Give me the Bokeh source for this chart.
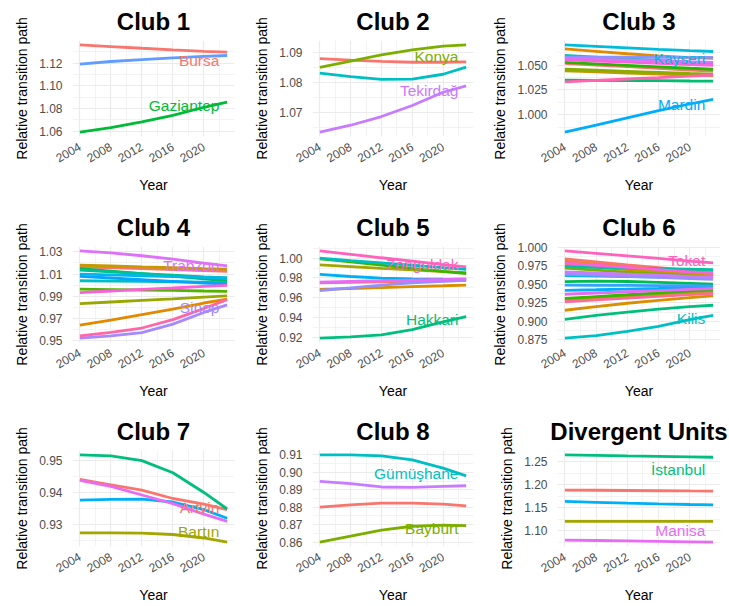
import math
from bokeh.plotting import figure
from bokeh.layouts import column, row
from bokeh.models import FixedTicker, PrintfTickFormatter, ColumnDataSource, Range1d
from bokeh.core.properties import value
from bokeh.embed import file_html
from bokeh.resources import INLINE

# ---------------- data ----------------
YEARS = [2004, 2008, 2012, 2016, 2020, 2023]
X_TICKS = [2004, 2008, 2012, 2016, 2020]
LABEL_X = 2022

CLUB1_VALUES = [
    [1.1362, 1.1347, 1.1332, 1.1318, 1.1305, 1.1297],  # Bursa
    [1.0590, 1.0630, 1.0680, 1.0738, 1.0810, 1.0856],  # Gaziantep
    [1.1192, 1.1215, 1.1232, 1.1247, 1.1260, 1.1268],
]
CLUB1_LABELS = ["Bursa", "Gaziantep", ""]
CLUB1_LABEL_Y = [1.1224, 1.0826, None]
CLUB1_YTICKS = [1.06, 1.08, 1.10, 1.12]

CLUB2_VALUES = [
    [1.0879, 1.0874, 1.0870, 1.0867, 1.0867, 1.0868],
    [1.0850, 1.0871, 1.0892, 1.0908, 1.0921, 1.0925],  # Konya
    [1.0831, 1.0819, 1.0810, 1.0811, 1.0827, 1.0851],
    [1.0634, 1.0657, 1.0686, 1.0723, 1.0767, 1.0788],  # Tekirdağ
]
CLUB2_LABELS = ["", "Konya", "", "Tekirdağ"]
CLUB2_LABEL_Y = [None, 1.0885, None, 1.0773]
CLUB2_YTICKS = [1.07, 1.08, 1.09]

CLUB3_VALUES = [
    [1.0520, 1.0503, 1.0486, 1.0468, 1.0451, 1.0440],
    [1.0667, 1.0642, 1.0617, 1.0595, 1.0578, 1.0570],
    [1.0445, 1.0433, 1.0421, 1.0410, 1.0400, 1.0395],
    [1.0460, 1.0450, 1.0439, 1.0428, 1.0417, 1.0410],
    [1.0530, 1.0515, 1.0500, 1.0485, 1.0470, 1.0460],
    [1.0350, 1.0348, 1.0346, 1.0344, 1.0341, 1.0340],
    [1.0600, 1.0583, 1.0566, 1.0549, 1.0532, 1.0520],
    [1.0707, 1.0692, 1.0677, 1.0662, 1.0648, 1.0640],  # Kayseri
    [0.9823, 0.9895, 0.9968, 1.0040, 1.0108, 1.0155],  # Mardin
    [1.0583, 1.0583, 1.0582, 1.0581, 1.0580, 1.0580],
    [1.0570, 1.0561, 1.0553, 1.0545, 1.0536, 1.0530],
    [1.0555, 1.0543, 1.0532, 1.0520, 1.0508, 1.0500],
    [1.0333, 1.0347, 1.0361, 1.0375, 1.0390, 1.0400],
]
CLUB3_LABELS = ["", "", "", "", "", "", "", "Kayseri", "Mardin", "", "", "", ""]
CLUB3_LABEL_Y = [None] * 7 + [1.0567, 1.0107] + [None] * 4
CLUB3_YTICKS = [1.000, 1.025, 1.050]

CLUB4_VALUES = [
    [1.0165, 1.0157, 1.0149, 1.0141, 1.0132, 1.0125],
    [0.9640, 0.9685, 0.9735, 0.9785, 0.9840, 0.9875],
    [1.0180, 1.0173, 1.0165, 1.0158, 1.0150, 1.0145],
    [0.9835, 0.9849, 0.9863, 0.9877, 0.9893, 0.9905],
    [0.9965, 0.9961, 0.9957, 0.9953, 0.9948, 0.9945],
    [1.0150, 1.0127, 1.0104, 1.0081, 1.0057, 1.0040],
    [1.0135, 1.0120, 1.0105, 1.0090, 1.0075, 1.0065],
    [1.0040, 1.0037, 1.0034, 1.0031, 1.0028, 1.0025],
    [1.0100, 1.0093, 1.0085, 1.0078, 1.0070, 1.0065],
    [1.0080, 1.0065, 1.0050, 1.0035, 1.0020, 1.0010],
    [0.9524, 0.9545, 0.9574, 0.9650, 0.9755, 0.9823],  # Sinop
    [1.0309, 1.0290, 1.0265, 1.0235, 1.0198, 1.0174],  # Trabzon
    [0.9934, 0.9948, 0.9962, 0.9975, 0.9990, 0.9999],
    [0.9545, 0.9575, 0.9615, 0.9690, 0.9790, 0.9870],
]
CLUB4_LABELS = [""] * 10 + ["Sinop", "Trabzon", "", ""]
CLUB4_LABEL_Y = [None] * 10 + [0.9800, 1.0180, None, None]
CLUB4_YTICKS = [0.95, 0.97, 0.99, 1.01, 1.03]

CLUB5_VALUES = [
    [0.9750, 0.9755, 0.9760, 0.9765, 0.9771, 0.9775],
    [0.9684, 0.9693, 0.9703, 0.9712, 0.9721, 0.9728],
    [0.9932, 0.9915, 0.9898, 0.9882, 0.9865, 0.9854],
    [0.9995, 0.9963, 0.9930, 0.9898, 0.9866, 0.9844],
    [0.9190, 0.9203, 0.9224, 0.9276, 0.9354, 0.9408],  # Hakkari
    [1.0000, 0.9976, 0.9953, 0.9929, 0.9905, 0.9888],
    [0.9837, 0.9815, 0.9798, 0.9790, 0.9787, 0.9786],
    [0.9673, 0.9700, 0.9728, 0.9750, 0.9767, 0.9776],
    [0.9759, 0.9766, 0.9772, 0.9779, 0.9785, 0.9790],
    [1.0075, 1.0040, 1.0005, 0.9972, 0.9935, 0.9912],  # Zonguldak
]
CLUB5_LABELS = ["", "", "", "", "Hakkari", "", "", "", "", "Zonguldak"]
CLUB5_LABEL_Y = [None] * 4 + [0.9378] + [None] * 4 + [0.9932]
CLUB5_YTICKS = [0.92, 0.94, 0.96, 0.98, 1.00]

CLUB6_VALUES = [
    [0.9845, 0.9805, 0.9765, 0.9728, 0.9690, 0.9665],
    [0.9815, 0.9776, 0.9738, 0.9701, 0.9664, 0.9640],
    [0.9150, 0.9200, 0.9245, 0.9285, 0.9322, 0.9345],
    [0.9760, 0.9730, 0.9700, 0.9672, 0.9643, 0.9625],
    [0.9290, 0.9313, 0.9337, 0.9361, 0.9385, 0.9400],
    [0.9720, 0.9694, 0.9668, 0.9643, 0.9617, 0.9600],
    [0.9310, 0.9335, 0.9360, 0.9386, 0.9412, 0.9430],
    [0.9537, 0.9545, 0.9540, 0.9528, 0.9515, 0.9505],
    [0.9027, 0.9080, 0.9125, 0.9165, 0.9200, 0.9218],
    [0.9740, 0.9731, 0.9722, 0.9714, 0.9706, 0.9700],
    [0.8772, 0.8805, 0.8864, 0.8932, 0.9023, 0.9080],  # Kilis
    [0.9620, 0.9614, 0.9607, 0.9601, 0.9594, 0.9590],
    [0.9420, 0.9428, 0.9437, 0.9445, 0.9454, 0.9460],
    [0.9490, 0.9488, 0.9486, 0.9484, 0.9482, 0.9480],
    [0.9640, 0.9625, 0.9610, 0.9595, 0.9580, 0.9570],
    [0.9670, 0.9655, 0.9640, 0.9625, 0.9610, 0.9600],
    [0.9367, 0.9384, 0.9401, 0.9417, 0.9434, 0.9445],
    [0.9790, 0.9760, 0.9730, 0.9700, 0.9670, 0.9650],
    [0.9955, 0.9922, 0.9888, 0.9853, 0.9815, 0.9791],  # Tokat
    [0.9265, 0.9290, 0.9314, 0.9339, 0.9363, 0.9380],
]
CLUB6_LABELS = [""] * 10 + ["Kilis"] + [""] * 7 + ["Tokat", ""]
CLUB6_LABEL_Y = [None] * 10 + [0.9037] + [None] * 7 + [0.9819, None]
CLUB6_YTICKS = [0.875, 0.900, 0.925, 0.950, 0.975, 1.000]

CLUB7_VALUES = [
    [0.9441, 0.9424, 0.9407, 0.9381, 0.9363, 0.9346],  # Artvin
    [0.9273, 0.9273, 0.9272, 0.9268, 0.9257, 0.9244],  # Bartın
    [0.9518, 0.9515, 0.9500, 0.9462, 0.9400, 0.9348],
    [0.9376, 0.9378, 0.9379, 0.9370, 0.9346, 0.9319],
    [0.9438, 0.9419, 0.9392, 0.9365, 0.9332, 0.9309],
]
CLUB7_LABELS = ["Artvin", "Bartın", "", "", ""]
CLUB7_LABEL_Y = [0.9354, 0.9278, None, None, None]
CLUB7_YTICKS = [0.93, 0.94, 0.95]

CLUB8_VALUES = [
    [0.8801, 0.8814, 0.8824, 0.8824, 0.8818, 0.8808],
    [0.8600, 0.8634, 0.8669, 0.8691, 0.8697, 0.8695],  # Bayburt
    [0.9100, 0.9100, 0.9094, 0.9071, 0.9024, 0.8980],  # Gümüşhane
    [0.8948, 0.8935, 0.8916, 0.8914, 0.8920, 0.8923],
]
CLUB8_LABELS = ["", "Bayburt", "Gümüşhane", ""]
CLUB8_LABEL_Y = [None, 0.8676, 0.8992, None]
CLUB8_YTICKS = [0.86, 0.87, 0.88, 0.89, 0.90, 0.91]

DIV_VALUES = [
    [1.1885, 1.1880, 1.1875, 1.1870, 1.1865, 1.1862],
    [1.1202, 1.1202, 1.1202, 1.1202, 1.1202, 1.1202],
    [1.2650, 1.2640, 1.2628, 1.2617, 1.2606, 1.2598],  # İstanbul
    [1.1637, 1.1618, 1.1600, 1.1585, 1.1571, 1.1562],
    [1.0797, 1.0788, 1.0778, 1.0768, 1.0759, 1.0752],  # Manisa
]
DIV_LABELS = ["", "", "İstanbul", "", "Manisa"]
DIV_LABEL_Y = [None, None, 1.2327, None, 1.1000]
DIV_YTICKS = [1.10, 1.15, 1.20, 1.25]

PANELS = [
    ("Club 1", CLUB1_VALUES, CLUB1_LABELS, CLUB1_LABEL_Y, CLUB1_YTICKS, "%.2f"),
    ("Club 2", CLUB2_VALUES, CLUB2_LABELS, CLUB2_LABEL_Y, CLUB2_YTICKS, "%.2f"),
    ("Club 3", CLUB3_VALUES, CLUB3_LABELS, CLUB3_LABEL_Y, CLUB3_YTICKS, "%.3f"),
    ("Club 4", CLUB4_VALUES, CLUB4_LABELS, CLUB4_LABEL_Y, CLUB4_YTICKS, "%.2f"),
    ("Club 5", CLUB5_VALUES, CLUB5_LABELS, CLUB5_LABEL_Y, CLUB5_YTICKS, "%.2f"),
    ("Club 6", CLUB6_VALUES, CLUB6_LABELS, CLUB6_LABEL_Y, CLUB6_YTICKS, "%.3f"),
    ("Club 7", CLUB7_VALUES, CLUB7_LABELS, CLUB7_LABEL_Y, CLUB7_YTICKS, "%.2f"),
    ("Club 8", CLUB8_VALUES, CLUB8_LABELS, CLUB8_LABEL_Y, CLUB8_YTICKS, "%.2f"),
    ("Divergent Units", DIV_VALUES, DIV_LABELS, DIV_LABEL_Y, DIV_YTICKS, "%.2f"),
]

# ---------------- style ----------------
FONT = "Liberation Sans"
COL_W = [243, 243, 243]
COL_BL = [72, 69, 71]
COL_FW = [162, 161, 163]
ROW_H = [204, 204, 198]
ROW_BT = [40, 42, 42]
FRAME_H = 96


def hue_pal(n, h0=15, h1=375, c=100, l=65):
    hues = [h0 + (h1 - h0) * i / n for i in range(n)]
    out = []
    Xn, Yn, Zn = 95.047, 100.0, 108.883
    un = 4 * Xn / (Xn + 15 * Yn + 3 * Zn)
    vn = 9 * Yn / (Xn + 15 * Yn + 3 * Zn)
    for h in hues:
        hr = math.radians(h)
        u, v = c * math.cos(hr), c * math.sin(hr)
        Y = Yn * ((l + 16) / 116) ** 3
        up = u / (13 * l) + un
        vp = v / (13 * l) + vn
        X = Y * 9 * up / (4 * vp)
        Z = Y * (12 - 3 * up - 20 * vp) / (4 * vp)
        x, y, z = X / 100, Y / 100, Z / 100
        rgb = [3.2404542 * x - 1.5371385 * y - 0.4985314 * z,
               -0.9692660 * x + 1.8760108 * y + 0.0415560 * z,
               0.0556434 * x - 0.2040259 * y + 1.0572252 * z]
        res = []
        for ch in rgb:
            ch = 12.92 * ch if ch <= 0.0031308 else 1.055 * ch ** (1 / 2.4) - 0.055
            res.append(max(0, min(255, round(ch * 255))))
        out.append("#%02X%02X%02X" % tuple(res))
    return out


def make_panel(idx, spec):
    title, values, labels, label_y, yticks, yfmt = spec
    r, cidx = divmod(idx, 3)
    W, H = COL_W[cidx], ROW_H[r]
    bl, fw = COL_BL[cidx], COL_FW[cidx]
    bt = ROW_BT[r]
    lo = min(min(v) for v in values)
    hi = max(max(v) for v in values)
    span = hi - lo
    xspan = YEARS[-1] - YEARS[0]
    p = figure(width=W, height=H, output_backend="svg", toolbar_location=None,
               x_range=Range1d(YEARS[0] - 0.05 * xspan, YEARS[-1] + 0.05 * xspan),
               y_range=Range1d(lo - 0.05 * span, hi + 0.05 * span),
               min_border_left=bl, min_border_right=W - bl - fw,
               min_border_top=bt, min_border_bottom=H - bt - FRAME_H,
               outline_line_color=None, background_fill_color="white",
               border_fill_color="white")
    p.title.text = title
    p.title.align = "center"
    p.title.text_font = FONT
    p.title.text_font_size = "24px"
    p.title.text_font_style = "bold"
    p.title.text_color = "black"
    p.title.standoff = 11

    step = yticks[1] - yticks[0]
    yminor = [yticks[0] - step / 2] + [t + step / 2 for t in yticks]
    p.yaxis.ticker = FixedTicker(ticks=yticks, minor_ticks=yminor)
    p.yaxis.formatter = PrintfTickFormatter(format=yfmt)
    p.xaxis.ticker = FixedTicker(ticks=X_TICKS,
                                 minor_ticks=[X_TICKS[0] - 2] + [t + 2 for t in X_TICKS])
    p.xaxis.major_label_orientation = math.pi / 6
    p.xaxis.axis_label = "Year"
    p.yaxis.axis_label = "Relative transition path"
    for ax in (p.xaxis, p.yaxis):
        ax.axis_line_color = None
        ax.major_tick_line_color = None
        ax.minor_tick_line_color = None
        ax.major_tick_out = 0
        ax.major_tick_in = 0
        ax.minor_tick_out = 0
        ax.major_label_text_font = FONT
        ax.major_label_text_font_size = "12px"
        ax.major_label_text_color = "#4D4D4D"
        ax.axis_label_text_font = FONT
        ax.axis_label_text_font_size = "14px"
        ax.axis_label_text_font_style = "normal"
        ax.axis_label_text_color = "black"
    p.xaxis.major_label_standoff = 9
    p.xaxis.axis_label_standoff = 7
    p.yaxis.major_label_standoff = 10
    p.yaxis.axis_label_standoff = 6
    for g in (p.xgrid, p.ygrid):
        g.grid_line_color = "#EBEBEB"
        g.grid_line_width = 1.2
        g.minor_grid_line_color = "#EEEEEE"
        g.minor_grid_line_width = 0.7

    colors = hue_pal(len(values))
    src = ColumnDataSource(dict(xs=[YEARS] * len(values), ys=values, color=colors))
    p.multi_line(xs="xs", ys="ys", line_color="color", line_width=2.8, source=src)

    lt = [t for t in labels if t]
    ly = [y for t, y in zip(labels, label_y) if t]
    lc = [c for t, c in zip(labels, colors) if t]
    lsrc = ColumnDataSource(dict(x=[LABEL_X] * len(lt), y=ly, text=lt, color=lc))
    p.text(x="x", y="y", text="text", text_color="color", source=lsrc,
           text_align="right", text_baseline="middle",
           text_font=value(FONT), text_font_size="15.5px")
    return p


figs = [make_panel(i, s) for i, s in enumerate(PANELS)]
layout = column(row(*figs[0:3]), row(*figs[3:6]), row(*figs[6:9]))

open("out.html", "w").write(file_html(layout, INLINE))
